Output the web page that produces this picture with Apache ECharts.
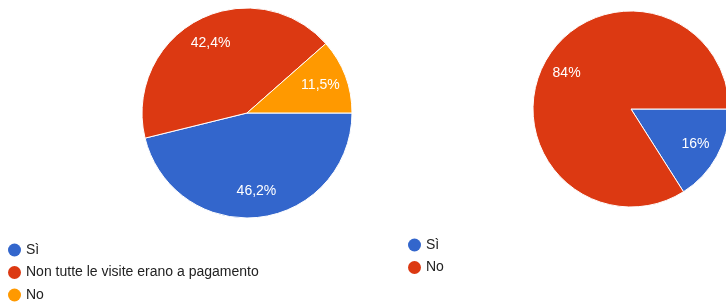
<!DOCTYPE html>
<html>
<head>
<meta charset="utf-8">
<script src="https://cdn.jsdelivr.net/npm/echarts@6/dist/echarts.min.js"></script>
<style>
  html, body { margin: 0; padding: 0; background: #fff; }
  #main { width: 726px; height: 302px; }
</style>
</head>
<body>
<div id="main"></div>
<script>
// left pie
const leftNames = ["Sì", "Non tutte le visite erano a pagamento", "No"];
const leftValues = [46.2, 42.4, 11.5];
const leftColors = ["#3366cc", "#dc3912", "#ff9900"];

// right pie
const rightNames = ["Sì", "No"];
const rightValues = [16, 84];
const rightColors = ["#3366cc", "#dc3912"];

const font = "Arial, 'Liberation Sans', sans-serif";

function pct(p) {
  return String(p.value).replace(".", ",") + "%";
}

function pieData(names, values, colors, transparent) {
  return names.map((n, i) => ({
    name: n,
    value: values[i],
    itemStyle: { color: transparent ? "rgba(0,0,0,0)" : colors[i] },
  }));
}

function legendData(names, colors) {
  return names.map((n, i) => ({
    name: n,
    itemStyle: { color: colors[i], borderWidth: 0 },
  }));
}

// a pie plus a transparent ring on top that only carries the labels (~0.7 r)
function pieSeries(names, values, colors, center, r) {
  const base = {
    type: "pie",
    center: center,
    startAngle: 0,
    clockwise: true,
    silent: true,
    animation: false,
  };
  return [
    Object.assign({}, base, {
      radius: [0, r],
      data: pieData(names, values, colors, false),
      itemStyle: { borderColor: "#fff", borderWidth: 1 },
      label: { show: false },
      labelLine: { show: false },
    }),
    Object.assign({}, base, {
      radius: [Math.round(r * 0.44), r],
      data: pieData(names, values, colors, true),
      z: 5,
      label: {
        show: true,
        position: "inside",
        color: "#fff",
        fontSize: 14,
        fontFamily: font,
        formatter: pct,
      },
      labelLine: { show: false },
    }),
  ];
}

const legendBase = {
  orient: "vertical",
  icon: "circle",
  itemWidth: 13,
  itemHeight: 13,
  padding: 0,
  height: 90,
  selectedMode: false,
  itemStyle: { borderWidth: 0 },
  textStyle: { fontSize: 14, lineHeight: 14, color: "#222", fontFamily: font },
};

const chart = echarts.init(document.getElementById("main"));
chart.setOption({
  backgroundColor: "#fff",
  legend: [
    Object.assign({}, legendBase, {
      left: 8,
      top: 243,
      itemGap: 8.5,
      data: legendData(leftNames, leftColors),
    }),
    Object.assign({}, legendBase, {
      left: 408,
      top: 238,
      itemGap: 8.5,
      data: legendData(rightNames, rightColors),
    }),
  ],
  series: [
    ...pieSeries(leftNames, leftValues, leftColors, [247, 113], 105),
    ...pieSeries(rightNames, rightValues, rightColors, [631, 109], 98),
  ],
});
</script>
</body>
</html>
